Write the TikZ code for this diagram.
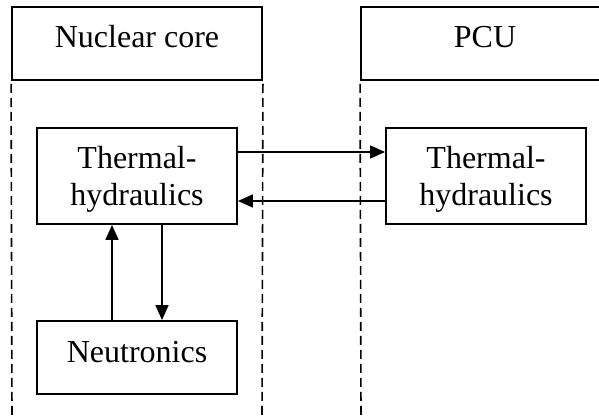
\documentclass[tikz,border=0pt]{standalone}
\usepackage{fontspec}
\setmainfont{Liberation Serif}
\usetikzlibrary{arrows.meta}
\begin{document}
\begin{tikzpicture}[x=1pt,y=-1pt,
  box/.style={draw,line width=1.9pt,inner sep=0pt,rectangle},
  lbl/.style={font=\fontsize{32}{37}\selectfont,inner sep=0pt},
  conn/.style={line width=1.7pt,-{Triangle[length=15pt,width=13pt]}},
  lane/.style={line width=1.6pt,dash pattern=on 9pt off 5pt}]
\useasboundingbox (0,0) rectangle (599,417);
\fill[white] (0,0) rectangle (599,417);
% headers
\node[box,minimum width=250pt,minimum height=73pt] (nc) at (137,43.5) {};
\node[box,minimum width=248pt,minimum height=73pt] (pcu) at (485,43.5) {};
\node[lbl,anchor=base] (nct) at (137,48) {Nuclear core};
\node[lbl,anchor=base] (pcut) at (485,48) {PCU};
% lanes
\coordinate (bl) at (12,417);
\coordinate (bm) at (262,417);
\coordinate (br) at (361,417);
\draw[lane] (nc.south west) ++(0,3) -- (bl);
\draw[lane] (nc.south east) ++(0,3) -- (bm);
\draw[lane] (pcu.south west) ++(0,3) -- (br);
% boxes
\node[box,minimum width=200pt,minimum height=96pt] (thl) at (137,176) {};
\node[box,minimum width=200pt,minimum height=96pt] (thr) at (486,176) {};
\node[box,minimum width=200pt,minimum height=73pt] (neu) at (137,357.5) {};
\node[lbl,anchor=base] (thlt1) at (137,168) {Thermal-};
\node[lbl,anchor=base] (thlt2) at (137,205) {hydraulics};
\node[lbl,anchor=base] (thrt1) at (486,168) {Thermal-};
\node[lbl,anchor=base] (thrt2) at (486,205) {hydraulics};
\node[lbl,anchor=base] (neut) at (137,362) {Neutronics};
% connectors
\draw[conn] (thl.east |- 0,152) -- (thr.west |- 0,152);
\draw[conn] (thr.west |- 0,201) -- (thl.east |- 0,201);
\draw[conn] (neu.north -| 112,0) -- (thl.south -| 112,0);
\draw[conn] (thl.south -| 162,0) -- (neu.north -| 162,0);
\end{tikzpicture}
\end{document}
